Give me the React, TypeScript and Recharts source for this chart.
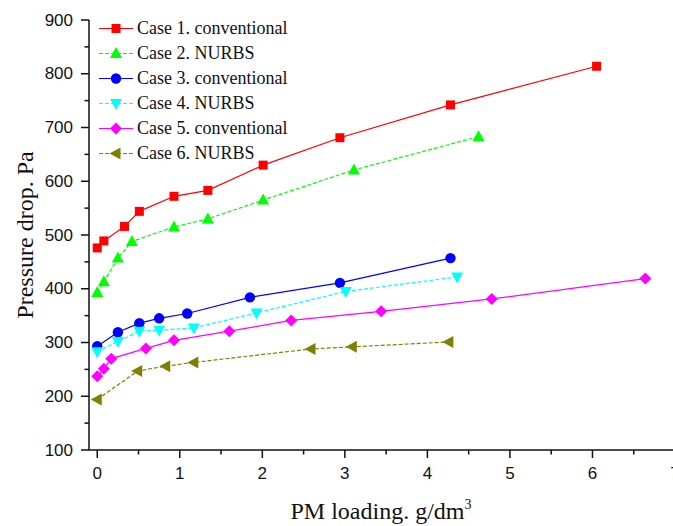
import { LineChart, Line, XAxis, YAxis } from "recharts";

const case1X = [0, 0.08, 0.33, 0.51, 0.93, 1.34, 2.01, 2.94, 4.28, 6.05];
const case1Y = [476, 489, 516, 544, 572, 583, 630, 681, 742, 814];
const case2X = [0, 0.08, 0.25, 0.42, 0.93, 1.34, 2.01, 3.11, 4.62];
const case2Y = [393, 413, 457, 488, 515, 530, 565, 621, 683];
const case3X = [0, 0.25, 0.51, 0.75, 1.09, 1.85, 2.94, 4.28];
const case3Y = [293, 319, 336, 345, 354, 384, 411, 457];
const case4X = [0, 0.25, 0.51, 0.75, 1.17, 1.93, 3.01, 4.36];
const case4Y = [283, 302, 321, 323, 327, 355, 395, 422];
const case5X = [0, 0.08, 0.17, 0.59, 0.93, 1.6, 2.35, 3.44, 4.78, 6.64];
const case5Y = [237, 251, 270, 289, 304, 321, 341, 358, 381, 419];
const case6X = [0, 0.49, 0.83, 1.17, 2.59, 3.09, 4.26];
const case6Y = [194, 247, 256, 263, 288, 292, 301];

const xTicks = [0, 0.5, 1, 1.5, 2, 2.5, 3, 3.5, 4, 4.5, 5, 5.5, 6, 6.5, 7];
const yTicks = [100, 150, 200, 250, 300, 350, 400, 450, 500, 550, 600, 650, 700, 750, 800, 850, 900];

const toPoints = (xs: number[], ys: number[]) => xs.map((x, i) => ({ x, y: ys[i] }));

type Shape = "square" | "up" | "circle" | "down" | "diamond" | "left";

const series: { name: string; color: string; shape: Shape; dash?: string; data: { x: number; y: number }[] }[] = [
  { name: "Case 1. conventional", color: "#ff0000", shape: "square", data: toPoints(case1X, case1Y) },
  { name: "Case 2. NURBS", color: "#00ff00", shape: "up", dash: "4 2", data: toPoints(case2X, case2Y) },
  { name: "Case 3. conventional", color: "#0000ff", shape: "circle", data: toPoints(case3X, case3Y) },
  { name: "Case 4. NURBS", color: "#00ffff", shape: "down", dash: "4 2", data: toPoints(case4X, case4Y) },
  { name: "Case 5. conventional", color: "#ff00ff", shape: "diamond", data: toPoints(case5X, case5Y) },
  { name: "Case 6. NURBS", color: "#808000", shape: "left", dash: "4 2", data: toPoints(case6X, case6Y) },
];

function Marker({ shape, cx, cy, color }: { shape: Shape; cx: number; cy: number; color: string }) {
  if (shape === "square") return <rect x={cx - 4.5} y={cy - 4.5} width={9} height={9} fill={color} />;
  if (shape === "circle") return <circle cx={cx} cy={cy} r={5.2} fill={color} />;
  if (shape === "diamond")
    return <polygon points={`${cx},${cy - 6} ${cx + 6},${cy} ${cx},${cy + 6} ${cx - 6},${cy}`} fill={color} />;
  if (shape === "up")
    return <polygon points={`${cx},${cy - 6.5} ${cx + 6},${cy + 4.5} ${cx - 6},${cy + 4.5}`} fill={color} />;
  if (shape === "down")
    return <polygon points={`${cx},${cy + 6.5} ${cx + 6},${cy - 4.5} ${cx - 6},${cy - 4.5}`} fill={color} />;
  return <polygon points={`${cx - 6.5},${cy} ${cx + 4.5},${cy - 6} ${cx + 4.5},${cy + 6}`} fill={color} />;
}

const tickFont = { fontFamily: "'Liberation Sans', Arial, sans-serif", fontSize: 17, fill: "#111" };
const serif = "'Liberation Serif', 'Times New Roman', serif";

function XTick(props: any) {
  const { x, y, payload } = props;
  const major = Number.isInteger(payload.value);
  return (
    <g>
      <line x1={x} x2={x} y1={y} y2={y + (major ? 8 : 4.5)} stroke="#111" strokeWidth={1.5} />
      {major && (
        <text x={x} y={y + 23} textAnchor="middle" dominantBaseline="central" {...tickFont}>
          {payload.value}
        </text>
      )}
    </g>
  );
}

function YTick(props: any) {
  const { x, y, payload } = props;
  const major = payload.value % 100 === 0;
  return (
    <g>
      <line x1={x} x2={x - (major ? 8 : 4.5)} y1={y} y2={y} stroke="#111" strokeWidth={1.5} />
      {major && (
        <text x={x - 16} y={y} textAnchor="end" dominantBaseline="central" {...tickFont}>
          {payload.value}
        </text>
      )}
    </g>
  );
}

function LegendBox() {
  return (
    <div style={{ position: "absolute", left: 97, top: 16, fontFamily: serif, fontSize: 18, color: "#111" }}>
      {series.map((s) => (
        <div key={s.name} style={{ display: "flex", alignItems: "center", height: 25 }}>
          <svg width={40} height={25}>
            <line x1={2} x2={36} y1={12.5} y2={12.5} stroke={s.color} strokeWidth={1} strokeDasharray={s.dash} />
            <Marker shape={s.shape} cx={19} cy={12.5} color={s.color} />
          </svg>
          <span style={{ whiteSpace: "nowrap" }}>{s.name}</span>
        </div>
      ))}
    </div>
  );
}

export default function App() {
  return (
    <div style={{ position: "absolute", left: 0, top: 0, width: 673, height: 526, overflow: "hidden", background: "#fff" }}>
      <LineChart width={680} height={526} margin={{ top: 20, right: 5, bottom: 0, left: 0 }}>
        <XAxis
          type="number"
          dataKey="x"
          domain={[-0.1, 7]}
          ticks={xTicks}
          allowDataOverflow
          height={76}
          tickSize={0}
          tickMargin={0}
          tickLine={false}
          tick={<XTick />}
          interval={0}
          axisLine={{ stroke: "#111", strokeWidth: 1.5 }}
          label={{
            position: "center",
            content: (p: any) => {
              const vb = p.viewBox;
              return (
                <text x={vb.x + 292} y={vb.y + 69} textAnchor="middle" fontFamily={serif} fontSize={24} fill="#111">
                  PM loading. g/dm
                  <tspan dy={-10} fontSize={14}>3</tspan>
                </text>
              );
            },
          }}
        />
        <YAxis
          type="number"
          dataKey="y"
          domain={[100, 900]}
          ticks={yTicks}
          width={89}
          tickSize={0}
          tickMargin={0}
          tickLine={false}
          tick={<YTick />}
          interval={0}
          axisLine={{ stroke: "#111", strokeWidth: 1.5 }}
          label={{
            position: "center",
            content: (p: any) => {
              const vb = p.viewBox;
              const cx = 25;
              const cy = vb.y + vb.height / 2;
              return (
                <text
                  x={cx}
                  y={cy}
                  transform={`rotate(-90 ${cx} ${cy})`}
                  textAnchor="middle"
                  dominantBaseline="central"
                  fontFamily={serif}
                  fontSize={24}
                  fill="#111"
                >
                  Pressure drop. Pa
                </text>
              );
            },
          }}
        />
        {series.map((s) => (
          <Line
            key={s.name}
            data={s.data}
            dataKey="y"
            name={s.name}
            type="linear"
            stroke={s.color}
            strokeWidth={1.2}
            strokeDasharray={s.dash}
            isAnimationActive={false}
            dot={(p: any) => <Marker key={`${s.name}-${p.index}`} shape={s.shape} cx={p.cx} cy={p.cy} color={s.color} />}
            activeDot={false}
          />
        ))}
      </LineChart>
      <LegendBox />
    </div>
  );
}
